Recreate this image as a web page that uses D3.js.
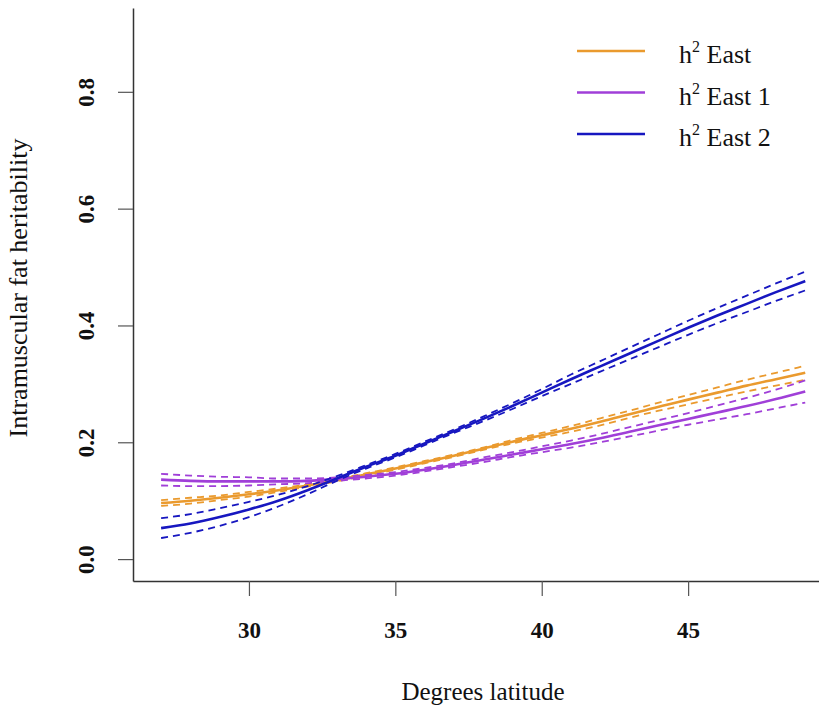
<!DOCTYPE html>
<html>
<head>
<meta charset="utf-8">
<script src="https://cdn.jsdelivr.net/npm/d3@7"></script>
<style>
    body { margin: 0; background: #fff; }
</style>
</head>
<body>
<svg id="chart" width="819" height="708"></svg>
<script>
// latitude grid
var lat = [27, 28, 29, 30, 31, 32, 33, 34, 35, 36, 37, 38, 39, 40, 41, 42, 43, 44, 45, 46, 47, 48, 49]

// h2 East (orange)
var east = [0.096, 0.100, 0.105, 0.111, 0.118, 0.126, 0.135, 0.145, 0.155, 0.166, 0.177, 0.189, 0.201, 0.212, 0.223, 0.235, 0.248, 0.261, 0.273, 0.285, 0.297, 0.308, 0.319]
var eastLo = [0.091, 0.095, 0.101, 0.107, 0.115, 0.124, 0.133, 0.143, 0.153, 0.164, 0.175, 0.187, 0.198, 0.208, 0.218, 0.229, 0.242, 0.254, 0.265, 0.276, 0.287, 0.297, 0.307]
var eastHi = [0.101, 0.105, 0.109, 0.115, 0.121, 0.128, 0.137, 0.147, 0.157, 0.168, 0.179, 0.191, 0.204, 0.216, 0.228, 0.241, 0.254, 0.268, 0.281, 0.294, 0.307, 0.319, 0.331]

// h2 East 1 (purple)
var east1 = [0.136, 0.134, 0.133, 0.133, 0.133, 0.134, 0.137, 0.141, 0.146, 0.153, 0.161, 0.170, 0.179, 0.188, 0.197, 0.207, 0.218, 0.229, 0.240, 0.251, 0.262, 0.274, 0.287]
var east1Lo = [0.126, 0.125, 0.125, 0.126, 0.128, 0.130, 0.134, 0.138, 0.143, 0.150, 0.158, 0.166, 0.175, 0.183, 0.191, 0.200, 0.210, 0.220, 0.230, 0.239, 0.248, 0.258, 0.268]
var east1Hi = [0.146, 0.143, 0.141, 0.140, 0.138, 0.138, 0.140, 0.144, 0.149, 0.156, 0.164, 0.174, 0.183, 0.193, 0.203, 0.214, 0.226, 0.238, 0.250, 0.263, 0.276, 0.290, 0.306]

// h2 East 2 (blue)
var east2 = [0.053, 0.061, 0.072, 0.085, 0.100, 0.118, 0.138, 0.158, 0.177, 0.198, 0.219, 0.240, 0.262, 0.285, 0.308, 0.330, 0.352, 0.374, 0.396, 0.417, 0.437, 0.457, 0.476]
var east2Lo = [0.036, 0.045, 0.057, 0.072, 0.090, 0.111, 0.134, 0.155, 0.174, 0.195, 0.216, 0.236, 0.257, 0.279, 0.300, 0.321, 0.342, 0.363, 0.384, 0.404, 0.423, 0.442, 0.460]
var east2Hi = [0.070, 0.077, 0.087, 0.098, 0.110, 0.125, 0.142, 0.161, 0.180, 0.201, 0.222, 0.244, 0.267, 0.291, 0.316, 0.339, 0.362, 0.385, 0.408, 0.430, 0.451, 0.472, 0.492]

var xTicks = [30, 35, 40, 45]
var yTicks = [0.0, 0.2, 0.4, 0.6, 0.8]

var seriesNames = ["East", "East 1", "East 2"]
var seriesColors = ["#ea9a2e", "#a03fd8", "#1717c0"]

var series = [
    { name: seriesNames[0], color: seriesColors[0], mid: east, lo: eastLo, hi: eastHi },
    { name: seriesNames[1], color: seriesColors[1], mid: east1, lo: east1Lo, hi: east1Hi },
    { name: seriesNames[2], color: seriesColors[2], mid: east2, lo: east2Lo, hi: east2Hi }
]

var serif = "'Liberation Serif', 'Times New Roman', Times, serif"

var svg = d3.select("#chart")
svg.append("rect").attr("width", 819).attr("height", 708).attr("fill", "#fff")

var x = d3.scaleLinear().domain([26.04, 49.88]).range([133, 831])
var y = d3.scaleLinear().domain([-0.0375, 0.9435]).range([581, 8])

// axes
var yAxis = svg.append("g")
    .attr("transform", "translate(133,0)")
    .call(d3.axisLeft(y).tickValues(yTicks).tickFormat(d3.format(".1f")).tickSize(15).tickSizeOuter(0))
yAxis.select(".domain").attr("stroke", "#333").attr("stroke-width", 1.5)
yAxis.selectAll(".tick line").attr("stroke", "#555").attr("stroke-width", 1.2)
yAxis.selectAll(".tick text")
    .attr("x", 0).attr("dy", "0.35em")
    .attr("transform", "translate(-47,0) rotate(-90)")
    .attr("text-anchor", "middle")
    .style("font-family", serif)
    .style("font-weight", "bold")
    .style("font-size", "23px")
    .attr("fill", "#111")

var xAxis = svg.append("g")
    .attr("transform", "translate(0,581)")
    .call(d3.axisBottom(x).tickValues(xTicks).tickSize(15).tickSizeOuter(0))
xAxis.select(".domain").attr("stroke", "#333").attr("stroke-width", 1.5)
xAxis.selectAll(".tick line").attr("stroke", "#555").attr("stroke-width", 1.2)
xAxis.selectAll(".tick text")
    .attr("y", 57).attr("dy", 0)
    .style("font-family", serif)
    .style("font-weight", "bold")
    .style("font-size", "23px")
    .attr("fill", "#111")

// axis titles
svg.append("text")
    .attr("transform", "translate(27,288) rotate(-90)")
    .attr("text-anchor", "middle")
    .style("font-family", serif)
    .style("font-size", "26px")
    .attr("fill", "#111")
    .text("Intramuscular fat heritability")

svg.append("text")
    .attr("x", 483).attr("y", 700)
    .attr("text-anchor", "middle")
    .style("font-family", serif)
    .style("font-size", "25px")
    .attr("fill", "#111")
    .text("Degrees latitude")

// curves
var line = function (vals) {
    return d3.line()
        .x((d, i) => x(lat[i]))
        .y(d => y(d))
        .curve(d3.curveMonotoneX)(vals)
}

series.forEach(function (s) {
    [s.lo, s.hi].forEach(function (b) {
        svg.append("path")
            .attr("d", line(b))
            .attr("fill", "none")
            .attr("stroke", s.color)
            .attr("stroke-width", 1.8)
            .attr("stroke-dasharray", "7,5")
    })
    svg.append("path")
        .attr("d", line(s.mid))
        .attr("fill", "none")
        .attr("stroke", s.color)
        .attr("stroke-width", 2.6)
})

// legend
var legend = svg.append("g")
series.forEach(function (s, i) {
    var ly = 51 + i * 41.5
    legend.append("line")
        .attr("x1", 577).attr("x2", 645)
        .attr("y1", ly).attr("y2", ly)
        .attr("stroke", s.color).attr("stroke-width", 2.6)
    var t = legend.append("text")
        .attr("x", 679).attr("y", ly + 12)
        .style("font-family", serif)
        .style("font-size", "26px")
        .attr("fill", "#111")
    t.append("tspan").text("h")
    t.append("tspan").attr("dy", -11).style("font-size", "16px").text("2")
    t.append("tspan").attr("dy", 11).text(" " + s.name)
})
</script>
</body>
</html>
